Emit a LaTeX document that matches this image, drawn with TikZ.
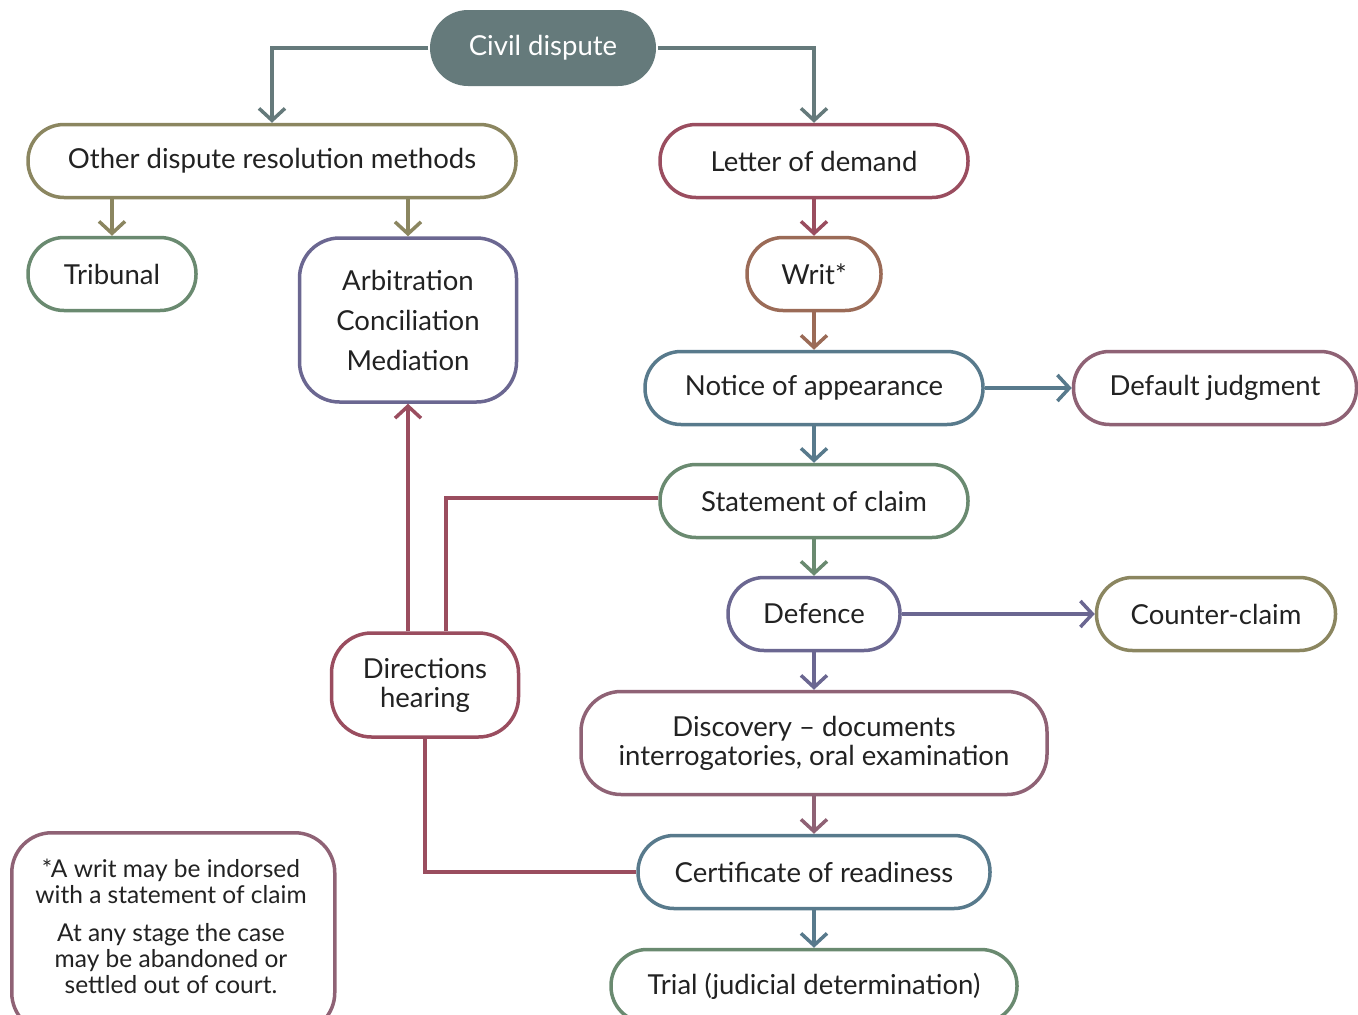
\documentclass[tikz,border=0pt]{standalone}
\usepackage{fontspec}
\setmainfont{Lato}
\usetikzlibrary{arrows.meta}
\definecolor{slate}{HTML}{657A7B}
\definecolor{olive}{HTML}{8B8660}
\definecolor{sage}{HTML}{6A8A70}
\definecolor{iris}{HTML}{6B6791}
\definecolor{wine}{HTML}{9A4D5F}
\definecolor{clay}{HTML}{9B6B57}
\definecolor{steel}{HTML}{587A8C}
\definecolor{mauve}{HTML}{8F6275}
\definecolor{ink}{HTML}{222222}
\tikzset{
  box/.style={draw, line width=3.5pt, fill=white, rounded corners=36pt, inner sep=0pt,
    minimum height=73pt, text=ink, font=\fontsize{27.5}{29}\selectfont, align=center},
  tallbox/.style={box, rounded corners=40pt},
  link/.style={line width=3.5pt},
  flow/.style={link, -{Straight Barb[length=12pt,width=26pt]}},
}
\begin{document}
\begin{tikzpicture}[x=1pt,y=-1pt]
\clip (0,0) rectangle (1358,1015);
\useasboundingbox (0,0) rectangle (1358,1015);

% top node
\node[box, draw=none, fill=slate, text=white, minimum width=226pt, minimum height=76pt, rounded corners=38pt] (civil) at (543,48) {Civil dispute};

% left branch
\node[box, draw=olive, minimum width=488pt] (odr) at (272,161) {Other dispute resolution methods};
\node[box, draw=sage, minimum width=168pt] (trib) at (112,274) {Tribunal};
\node[tallbox, draw=iris, minimum width=217pt, minimum height=164pt,
  font=\fontsize{27.5}{40}\selectfont] (arb) at (408,320) {Arbitration\\Conciliation\\Mediation};
\node[tallbox, draw=wine, minimum width=187pt, minimum height=104pt] (dir) at (425,685) {Directions\\hearing};

% main court sequence
\node[box, draw=wine, minimum width=308pt] (lod) at (814,161) {Letter of demand};
\node[box, draw=clay, minimum width=134pt] (writ) at (814,274) {Writ*};
\node[box, draw=steel, minimum width=338pt] (notice) at (814,388) {Notice of appearance};
\node[box, draw=mauve, minimum width=283pt] (default) at (1215,388) {Default judgment};
\node[box, draw=sage, minimum width=308pt] (soc) at (814,501) {Statement of claim};
\node[box, draw=iris, minimum width=172pt] (def) at (814,614) {Defence};
\node[box, draw=olive, minimum width=239pt] (counter) at (1216,614) {Counter-claim};
\node[tallbox, draw=mauve, minimum width=466pt, minimum height=103pt] (disc) at (814,743) {Discovery -- documents\\interrogatories, oral examination};
\node[box, draw=steel, minimum width=352pt] (cert) at (814,872) {Certificate of readiness};
\node[box, draw=sage, minimum width=406pt] (trial) at (814,986) {Trial (judicial determination)};

% footnote box and its text
\node[tallbox, draw=mauve, minimum width=323pt, minimum height=200pt, anchor=north west] (note) at (10,831) {};
\node[text=ink, inner sep=0pt, align=center, font=\fontsize{24.5}{26}\selectfont] (notetext) at (171,926)
  {*A writ may be indorsed\\with a statement of claim\\[12pt]At any stage the case\\may be abandoned or\\settled out of court.};

% connectors
\draw[flow, slate] (civil.west) -| (odr.north);
\draw[flow, slate] (civil.east) -| (lod.north);
\draw[flow, olive] (trib.north |- odr.south) -- (trib.north);
\draw[flow, olive] (arb.north |- odr.south) -- (arb.north);
\draw[flow, wine] (lod) -- (writ);
\draw[flow, clay] (writ) -- (notice);
\draw[flow, steel] (notice) -- (soc);
\draw[flow, steel] (notice) -- (default);
\draw[flow, sage] (soc) -- (def);
\draw[flow, iris] (def) -- (disc);
\draw[flow, iris] (def) -- (counter);
\draw[flow, mauve] (disc) -- (cert);
\draw[flow, steel] (cert) -- (trial);
\draw[flow, wine] (arb.south |- dir.north) -- (arb.south);
\draw[link, wine] ([yshift=3pt]soc.west) -| ([xshift=21pt]dir.north);
\draw[link, wine] (cert.west) -| (dir.south);
\end{tikzpicture}
\end{document}
